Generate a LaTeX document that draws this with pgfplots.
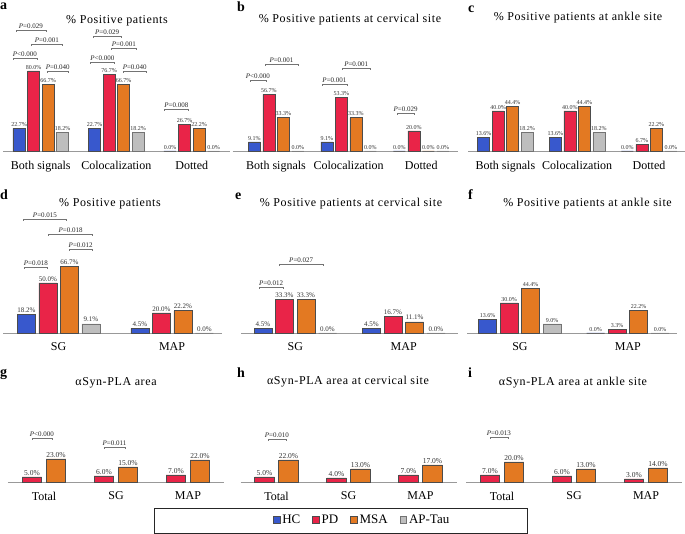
\documentclass[border=0pt]{standalone}
\usepackage{fontspec}
\setmainfont{Liberation Serif}
\newfontfamily\ttlfont[LetterSpace=5]{Liberation Serif}
\usepackage{pgfplots}
\pgfplotsset{compat=1.18}

\definecolor{cHC}{RGB}{56,88,205}
\definecolor{cPD}{RGB}{233,36,72}
\definecolor{cMSA}{RGB}{227,121,34}
\definecolor{cAP}{RGB}{190,190,190}

\newcommand{\pfont}{\fontsize{7}{7}\selectfont}
% significance bracket: x1, x2, y, label
\newcommand{\pbr}[4]{%
  \draw[black!55, line width=0.5pt] ([yshift=-2pt]axis cs:#1,#3) -- (axis cs:#1,#3)
    -- node[above, font=\pfont, inner sep=1.2pt, text=black!85] {\textit{P}#4} (axis cs:#2,#3)
    -- ([yshift=-2pt]axis cs:#2,#3);}

\pgfplotsset{
  panel/.style={
    scale only axis, anchor=south west, ybar, ymin=0, clip=false,
    enlargelimits=false,
    axis x line*=bottom, axis y line=none,
    x axis line style={-, draw=black!40, line width=0.9pt},
    major tick length=0pt,
    xticklabel style={font=\fontsize{12}{12}\selectfont, yshift=-6.5pt},
    nodes near coords={\pgfmathprintnumber[fixed,fixed zerofill,precision=1,assume math mode=true]{\pgfplotspointmeta}\%},
    every node near coord/.append style={text=black!80, inner sep=1.5pt},
  },
  hc/.style={fill=cHC, draw=black!70, line width=0.6pt},
  pd/.style={fill=cPD, draw=black!70, line width=0.6pt},
  msa/.style={fill=cMSA, draw=black!70, line width=0.6pt},
  ap/.style={fill=cAP, draw=black!55, line width=0.6pt},
  row1/.style={panel, height=135pt, ymax=135, bar width=12pt, ybar=2.5pt,
    xtick={0,1,2}, xticklabels={Both signals, Colocalization, Dotted},
    every node near coord/.append style={font=\fontsize{6}{6}\selectfont}},
  row2/.style={panel, height=135pt, ymax=135, bar width=18pt, ybar=3.5pt,
    xtick={0,1}, xticklabels={SG, MAP}},
  row3/.style={panel, height=110pt, ymax=110, bar width=19.5pt, ybar=4.5pt,
    xtick={0,1,2}, xticklabels={Total, SG, MAP},
    every node near coord/.append style={font=\fontsize{7.5}{8}\selectfont}},
}

\begin{document}
\begin{tikzpicture}
\useasboundingbox (0,0) rectangle (685pt,534pt);

% ---- a
\begin{axis}[row1, at={(3pt,383pt)}, width=226.5pt, xmin=-0.5, xmax=2.5]
\addplot[hc] coordinates {(0,22.7) (1,22.7) (2,0)};
\addplot[pd] coordinates {(0,80.0) (1,76.7) (2,26.7)};
\addplot[msa] coordinates {(0,66.7) (1,66.7) (2,22.2)};
\addplot[ap] coordinates {(0,18.2) (1,18.2) (2,0)};
\pbr{-0.37}{-0.05}{93}{<0.000}
\pbr{-0.33}{0.07}{121}{=0.029}
\pbr{-0.12}{0.28}{107}{=0.001}
\pbr{0.09}{0.36}{80}{=0.040}
\pbr{0.69}{1.07}{115}{=0.029}
\pbr{0.93}{1.27}{103}{=0.001}
\pbr{0.65}{0.98}{89}{<0.000}
\pbr{1.09}{1.40}{80}{=0.040}
\pbr{1.64}{1.95}{42}{=0.008}
\end{axis}

% ---- b
\begin{axis}[row1, at={(232.5pt,383pt)}, width=225pt, xmin=-0.6, xmax=2.5]
\addplot[hc] coordinates {(0,9.1) (1,9.1) (2,0)};
\addplot[pd] coordinates {(0,56.7) (1,53.3) (2,20.0)};
\addplot[msa] coordinates {(0,33.3) (1,33.3) (2,0)};
\addplot[ap] coordinates {(0,0) (1,0) (2,0)};
\pbr{-0.36}{-0.14}{71}{<0.000}
\pbr{-0.15}{0.30}{87}{=0.001}
\pbr{0.63}{0.98}{67}{=0.001}
\pbr{0.91}{1.30}{83}{=0.001}
\pbr{1.67}{1.90}{38}{=0.029}
\end{axis}

% ---- c
\begin{axis}[row1, at={(468pt,383pt)}, width=217pt, xmin=-0.52, xmax=2.5]
\addplot[hc] coordinates {(0,13.6) (1,13.6) (2,0)};
\addplot[pd] coordinates {(0,40.0) (1,40.0) (2,6.7)};
\addplot[msa] coordinates {(0,44.4) (1,44.4) (2,22.2)};
\addplot[ap] coordinates {(0,18.2) (1,18.2) (2,0)};
\end{axis}

% ---- d
\begin{axis}[row2, at={(3pt,201pt)}, width=219pt, xmin=-0.49, xmax=1.44,
  every node near coord/.append style={font=\fontsize{7}{7}\selectfont}]
\addplot[hc] coordinates {(0,18.2) (1,4.5)};
\addplot[pd] coordinates {(0,50.0) (1,20.0)};
\addplot[msa] coordinates {(0,66.7) (1,22.2)};
\addplot[ap] coordinates {(0,9.1) (1,0)};
\pbr{-0.31}{0.07}{114}{=0.015}
\pbr{-0.09}{0.30}{99}{=0.018}
\pbr{0.09}{0.30}{84}{=0.012}
\pbr{-0.30}{-0.10}{66}{=0.018}
\end{axis}

% ---- e
\begin{axis}[row2, at={(241pt,201pt)}, width=217pt, xmin=-0.5, xmax=1.5,
  every node near coord/.append style={font=\fontsize{7}{7}\selectfont}]
\addplot[hc] coordinates {(0,4.5) (1,4.5)};
\addplot[pd] coordinates {(0,33.3) (1,16.7)};
\addplot[msa] coordinates {(0,33.3) (1,11.1)};
\addplot[ap] coordinates {(0,0) (1,0)};
\pbr{-0.15}{0.26}{69}{=0.027}
\pbr{-0.33}{-0.115}{46}{=0.012}
\end{axis}

% ---- f
\begin{axis}[row2, at={(467pt,201pt)}, width=209.5pt, xmin=-0.49, xmax=1.45,
  every node near coord/.append style={font=\fontsize{6}{6}\selectfont}]
\addplot[hc] coordinates {(0,13.6) (1,0)};
\addplot[pd] coordinates {(0,30.0) (1,3.3)};
\addplot[msa] coordinates {(0,44.4) (1,22.2)};
\addplot[ap] coordinates {(0,9.0) (1,0)};
\end{axis}

% ---- g
\begin{axis}[row3, at={(8pt,52pt)}, width=216pt, xmin=-0.5, xmax=2.5]
\addplot[pd] coordinates {(0,5.0) (1,6.0) (2,7.0)};
\addplot[msa] coordinates {(0,23.0) (1,15.0) (2,22.0)};
\pbr{-0.17}{0.11}{44}{<0.000}
\pbr{0.83}{1.13}{35}{=0.011}
\end{axis}

% ---- h
\begin{axis}[row3, at={(240.5pt,52pt)}, width=216pt, xmin=-0.5, xmax=2.5]
\addplot[pd] coordinates {(0,5.0) (1,4.0) (2,7.0)};
\addplot[msa] coordinates {(0,22.0) (1,13.0) (2,17.0)};
\pbr{-0.12}{0.13}{43}{=0.010}
\end{axis}

% ---- i
\begin{axis}[row3, at={(466pt,52pt)}, width=216pt, xmin=-0.5, xmax=2.5]
\addplot[pd] coordinates {(0,7.0) (1,6.0) (2,3.0)};
\addplot[msa] coordinates {(0,20.0) (1,13.0) (2,14.0)};
\pbr{-0.17}{0.08}{45}{=0.013}
\end{axis}

% ---- legend
\begin{axis}[at={(154pt,1pt)}, anchor=south west, scale only axis,
  width=373pt, height=25pt, hide axis, xmin=0, xmax=1, ymin=0, ymax=1,
  legend columns=4,
  legend style={at={(0.558,0.52)}, anchor=center, draw=none, fill=none,
    font=\fontsize{13}{13}\selectfont,
    nodes={inner xsep=2pt},
    /tikz/every even column/.append style={column sep=10pt}},
  legend image code/.code={\draw[#1] (0pt,-3.3pt) rectangle (6.7pt,3.3pt);}]
\addlegendimage{hc}\addlegendentry{HC}
\addlegendimage{pd}\addlegendentry{PD}
\addlegendimage{msa}\addlegendentry{MSA}
\addlegendimage{ap}\addlegendentry{AP-Tau}
\end{axis}
\draw[black!85, line width=0.9pt] (154pt,1pt) rectangle (527pt,26pt);

% ---- titles and panel letters
\tikzset{ttl/.style={font=\ttlfont\fontsize{12}{12}\selectfont, anchor=base, inner sep=0pt},
  lbl/.style={font=\fontsize{14}{14}\bfseries\selectfont, anchor=base west, inner sep=0pt}}
\node[ttl] at (117pt,510pt) {\% Positive patients};
\node[ttl] at (350pt,511pt) {\% Positive patients at cervical site};
\node[ttl] at (578pt,513pt) {\% Positive patients at ankle site};
\node[ttl] at (110pt,327pt) {\% Positive patients};
\node[ttl] at (351pt,327pt) {\% Positive patients at cervical site};
\node[ttl] at (587.5pt,327pt) {\% Positive patients at ankle site};
\node[ttl] at (116pt,148pt) {αSyn-PLA area};
\node[ttl] at (348pt,149pt) {αSyn-PLA area at cervical site};
\node[ttl] at (573pt,148pt) {αSyn-PLA area at ankle site};

\node[lbl] at (0pt,524pt) {a};
\node[lbl] at (237pt,522.5pt) {b};
\node[lbl] at (468pt,521pt) {c};
\node[lbl] at (0pt,334pt) {d};
\node[lbl] at (235pt,334pt) {e};
\node[lbl] at (468pt,334pt) {f};
\node[lbl] at (0pt,157pt) {g};
\node[lbl] at (237pt,156pt) {h};
\node[lbl] at (468pt,156pt) {i};
\end{tikzpicture}
\end{document}
